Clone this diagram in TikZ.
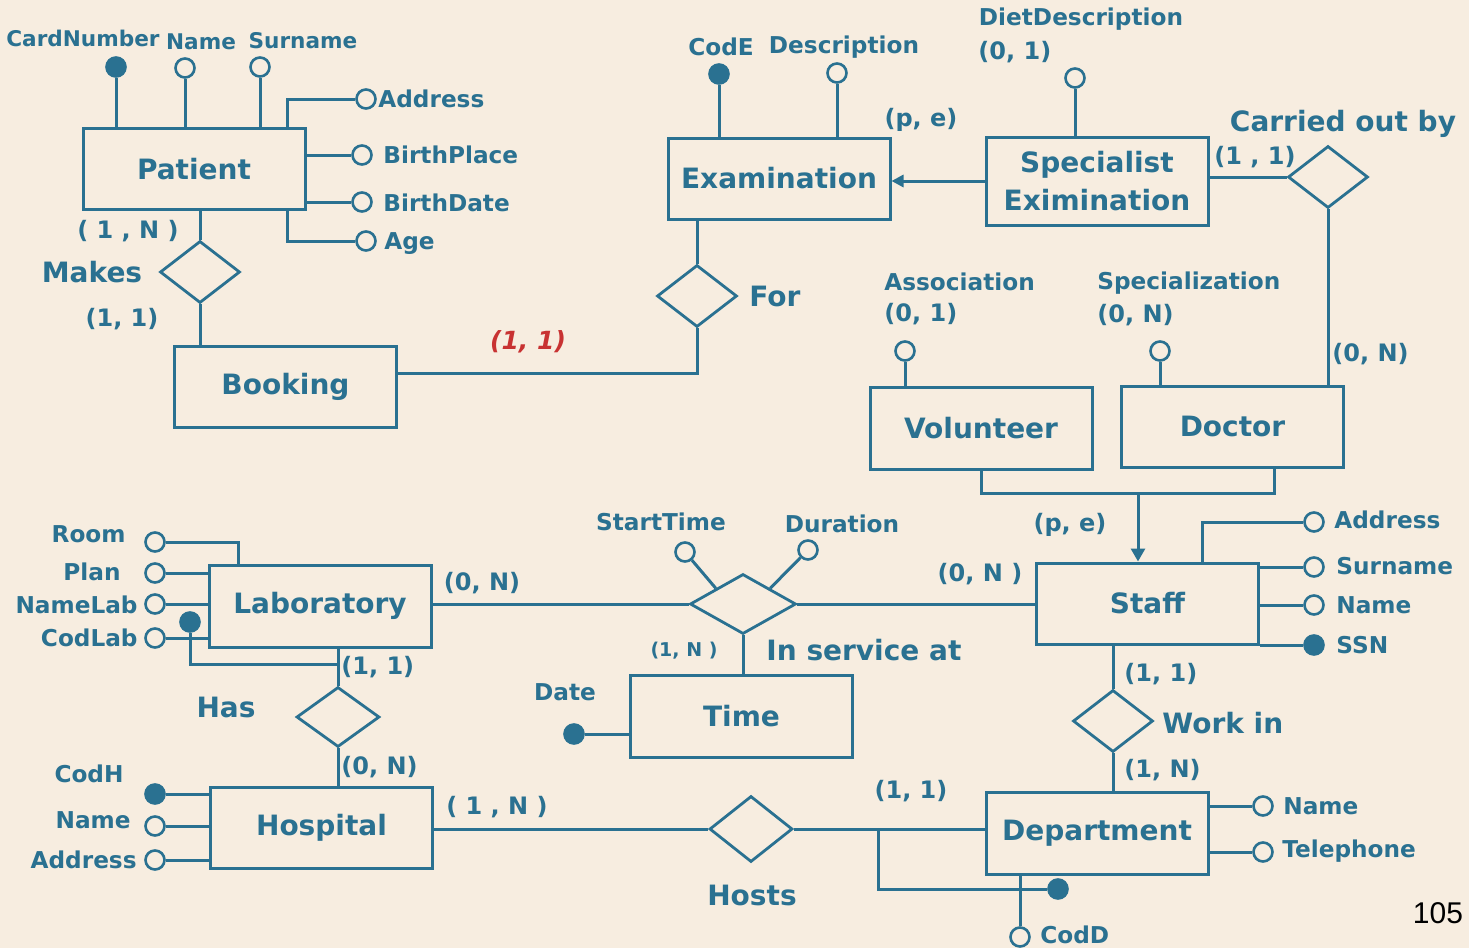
\documentclass[tikz,border=0pt]{standalone}
\usepackage{fontspec}
\setmainfont{DejaVu Sans}
\newfontfamily\pagefont{Liberation Sans}
\usetikzlibrary{arrows.meta,shapes.geometric}
\definecolor{erblue}{RGB}{42,113,145}
\definecolor{paper}{RGB}{247,237,224}
\definecolor{erred}{RGB}{200,50,50}
\tikzset{>=Stealth,
 ent/.style={draw=erblue,line width=1.5pt,minimum width=111pt,minimum height=40.5pt,text=erblue,font=\fontsize{14}{19}\selectfont\bfseries,align=center},
 rel/.style={diamond,draw=erblue,line width=1.4pt,minimum width=40pt,minimum height=31pt,inner sep=0pt},
 att/.style={circle,draw=erblue,line width=1.3pt,fill=paper,minimum size=9.5pt,inner sep=0pt},
 key/.style={att,fill=erblue},
 ln/.style={draw=erblue,line width=1.5pt},
 lbl/.style={text=erblue,inner sep=0pt,font=\fontsize{11.6}{13}\selectfont\bfseries},
 sml/.style={lbl,font=\fontsize{10.8}{12}\selectfont\bfseries},
 card/.style={lbl,font=\fontsize{12}{14}\selectfont\bfseries},
 rlbl/.style={lbl,font=\fontsize{14}{16}\selectfont\bfseries}}
\begin{document}
\begin{tikzpicture}[x=.5pt,y=-.5pt]
\fill[paper] (0,0) rectangle (1469,948);\useasboundingbox (0,0) rectangle (1469,948);
% entities
\node[ent] (pat) at (194,169) {Patient};
\node[ent] (book) at (285.5,386.5) {Booking};
\node[ent] (exam) at (779,178.5) {Examination};
\node[ent,minimum height=44pt] (spec) at (1097,181) {Specialist\\Eximination};
\node[ent,minimum height=41pt] (vol) at (981,428) {Volunteer};
\node[ent] (doc) at (1232.5,426.5) {Doctor};
\node[ent,minimum height=41pt] (lab) at (320,606) {Laboratory};
\node[ent] (staff) at (1147.5,603.5) {Staff};
\node[ent,minimum height=41pt] (time) at (741.5,716) {Time};
\node[ent] (hosp) at (321.5,827.5) {Hospital};
\node[ent,minimum height=41pt] (dept) at (1097,833) {Department};
% relationships
\node[rel] (makes) at (200,272) {};
\node[rel] (forr) at (697,296) {};
\node[rel] (carr) at (1328,177) {};
\node[rel,minimum width=53pt,minimum height=30pt] (serv) at (743,604) {};
\node[rel,minimum width=41.5pt,minimum height=30pt] (has) at (338,717) {};
\node[rel] (work) at (1113,721) {};
\node[rel,minimum width=41.5pt,minimum height=33pt] (hosts) at (751,829) {};
% links
\draw[ln] (makes.north) -- (makes.north |- pat.south) (makes.south) -- (makes.south |- book.north);
\draw[ln] (forr.north) -- (forr.north |- exam.south) (forr.south) |- ([yshift=6.75pt]book.east);
\draw[ln,-{Triangle[length=6pt,width=6pt]}] (spec.west) -- (spec.west -| exam.east);
\draw[ln] (carr.west) -- (carr.west -| spec.east) (carr.south) -- (carr.south |- doc.north);
\coordinate (isa) at (1138,493);
\draw[ln] (vol.south) |- (isa) -| ([xshift=20.75pt]doc.south);
\draw[ln,-{Triangle[length=6.5pt,width=7pt]}] (isa) -- (isa |- staff.north);
\draw[ln] (serv.west) -- (serv.west -| lab.east) (serv.east) -- (serv.east -| staff.west) (serv.south) -- (serv.south |- time.north);
\draw[ln] (has.north) -- (has.north |- lab.south) (has.south) -- (has.south |- hosp.north);
\draw[ln] (work.north) -- (work.north |- staff.south) (work.south) -- (work.south |- dept.north);
\draw[ln] (hosts.west) -- (hosts.west -| hosp.east) (hosts.east) -- (hosts.east -| dept.west);
% attributes
\foreach \n/\x/\y/\s in {pcard/116/67/key,pnam/185/68/att,psur/260/67/att}{\node[\s] (\n) at (\x,\y) {};\draw[ln] (\n) -- (\n |- pat.north);}
\node[att] (paddr) at (366,99) {};\draw[ln] (paddr) -| ([xshift=-9.5pt]pat.north east);
\foreach \n/\y in {pbp/155,pbd/202}{\node[att] (\n) at (362,\y) {};\draw[ln] (\n) -- (\n -| pat.east);}
\node[att] (page) at (366,241) {};\draw[ln] (page) -| ([xshift=-9.5pt]pat.south east);
\foreach \n/\x/\y/\s in {ecod/719/74/key,edesc/837/73/att}{\node[\s] (\n) at (\x,\y) {};\draw[ln] (\n) -- (\n |- exam.north);}
\node[att] (diet) at (1075,78) {};\draw[ln] (diet) -- (diet |- spec.north);
\node[att] (assoc) at (905,351) {};\draw[ln] (assoc) -- (assoc |- vol.north);
\node[att] (specz) at (1160,351) {};\draw[ln] (specz) -- (specz |- doc.north);
\node[att] (room) at (155,542) {};\draw[ln] (room) -| ([xshift=15.5pt]lab.north west);
\foreach \n/\y in {plan/573,lname/604,lcod/638}{\node[att] (\n) at (155,\y) {};\draw[ln] (\n) -- (\n -| lab.west);}
\node[key] (lkey) at (190,622) {};\draw[ln] (lkey) |- ([yshift=-8pt]lab.south -| has.north);
\foreach \n/\y/\s in {hcod/794/key,hname/826/att,haddr/860/att}{\node[\s] (\n) at (155,\y) {};\draw[ln] (\n) -- (\n -| hosp.west);}
\node[att] (start) at (685,552) {};\draw[ln] (start) -- (serv.north west);
\node[att] (dur) at (808,550) {};\draw[ln] (dur) -- (serv.north east);
\node[key] (date) at (574,734) {};\draw[ln] (date) -- (date -| time.west);
\node[att] (saddr) at (1314,522) {};\draw[ln] (saddr) -| ([xshift=-29pt]staff.north east);
\foreach \n/\y/\s in {ssur/567/att,snam/605/att,ssn/645/key}{\node[\s] (\n) at (1314,\y) {};\draw[ln] (\n) -- (\n -| staff.east);}
\foreach \n/\y in {dnam/806,dtel/852}{\node[att] (\n) at (1263,\y) {};\draw[ln] (\n) -- (\n -| dept.east);}
\node[att] (dcod) at (1020,937) {};\draw[ln] (dcod) -- (dcod |- dept.south);
\node[key] (dkey) at (1058,889) {};\draw[ln] ([xshift=-53pt]dept.west |- hosts.east) |- (dkey);
% labels
\node[sml] (tpcard) at (83,38) {CardNumber};\node[sml] (tpnam) at (201,42) {Name};\node[sml] (tpsur) at (303,41) {Surname};
\node[lbl,anchor=west] (tpaddr) at (378,99) {Address};\node[lbl,anchor=west] (tpbp) at (383,155) {BirthPlace};
\node[lbl,anchor=west] (tpbd) at (383,203) {BirthDate};\node[lbl,anchor=west] (tpage) at (384,244) {Age};
\node[card] (c1) at (128,231) {( 1 , N )};\node[rlbl] (tmakes) at (92,272) {Makes};\node[card] (c2) at (122,319) {(1, 1)};
\node[card,text=erred,font=\fontsize{12.5}{14}\selectfont\bfseries\itshape] (c3) at (528,342) {(1, 1)};
\node[lbl] (tecod) at (721,47) {CodE};\node[lbl] (tedesc) at (844,47) {Description};\node[card] (c4) at (921,120) {(p, e)};
\node[lbl] (tdiet) at (1081,19) {DietDescription};\node[card,anchor=west] (c5) at (978,52) {(0, 1)};
\node[rlbl] (tcarr) at (1343,124) {Carried out by};\node[card] (c6) at (1255,157) {(1 , 1)};\node[card,anchor=west] (c7) at (1332,354) {(0, N)};
\node[rlbl,anchor=west] (tfor) at (749,296) {For};
\node[lbl,anchor=west] (tassoc) at (884,282) {Association};\node[card,anchor=west] (c8) at (884,314) {(0, 1)};
\node[lbl,anchor=west] (tspecz) at (1097,283) {Specialization};\node[card,anchor=west] (c9) at (1097,315) {(0, N)};
\node[lbl,anchor=east] (troom) at (126,534) {Room};\node[lbl,anchor=east] (tplan) at (121,572) {Plan};
\node[lbl,anchor=east] (tlname) at (138,605) {NameLab};\node[lbl,anchor=east] (tlcod) at (138,638) {CodLab};
\node[card] (c10) at (482,583) {(0, N)};\node[card,anchor=west] (c11) at (341,667) {(1, 1)};
\node[rlbl] (thas) at (226,707) {Has};\node[card,anchor=west] (c12) at (341,767) {(0, N)};
\node[lbl] (thcod) at (89,774) {CodH};\node[lbl,anchor=east] (thname) at (131,820) {Name};\node[lbl,anchor=east] (thaddr) at (137,860) {Address};
\node[card] (c13) at (497,807) {( 1 , N )};
\node[lbl] (tstart) at (661,522) {StartTime};\node[lbl] (tdur) at (842,524) {Duration};
\node[card,font=\fontsize{9.5}{11}\selectfont\bfseries] (c14) at (684,651) {(1, N )};
\node[rlbl,anchor=west] (tserv) at (766,650) {In service at};\node[lbl] (tdate) at (565,692) {Date};
\node[card] (c15) at (980,574) {(0, N )};\node[card] (c16) at (1070,525) {(p, e)};
\node[lbl,anchor=west] (tsaddr) at (1334,520) {Address};\node[lbl,anchor=west] (tssur) at (1336,566) {Surname};
\node[lbl,anchor=west] (tsnam) at (1336,605) {Name};\node[lbl,anchor=west] (tssn) at (1336,645) {SSN};
\node[card,anchor=west] (c17) at (1124,674) {(1, 1)};\node[rlbl,anchor=west] (twork) at (1162,723) {Work in};
\node[card,anchor=west] (c18) at (1124,770) {(1, N)};
\node[card] (c19) at (911,791) {(1, 1)};\node[rlbl] (thosts) at (752,895) {Hosts};
\node[lbl,anchor=west] (tdnam) at (1283,806) {Name};\node[lbl,anchor=west] (tdtel) at (1282,851) {Telephone};
\node[lbl,anchor=west] (tdcod) at (1040,935) {CodD};
\node[inner sep=0pt,font=\pagefont\fontsize{15}{17}\selectfont] (pg) at (1438,913) {105};
\end{tikzpicture}
\end{document}
